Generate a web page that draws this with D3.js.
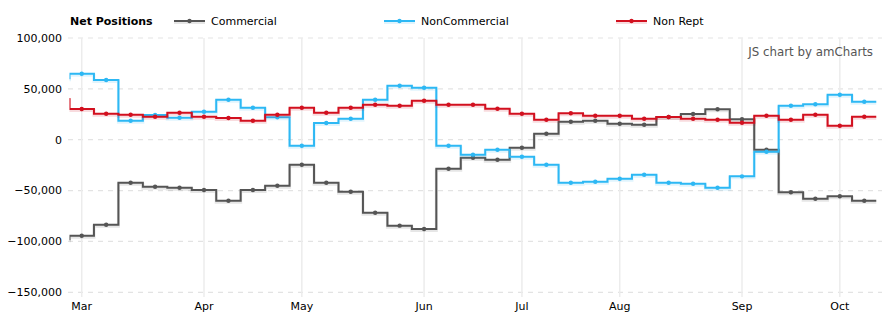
<!DOCTYPE html>
<html><head><meta charset="utf-8">
<script src="https://cdn.jsdelivr.net/npm/d3@7"></script>
<style>
html,body{margin:0;padding:0;background:#fff;}
svg{display:block;font-family:"DejaVu Sans",Verdana,sans-serif;}
</style></head>
<body><svg id="chart" width="892" height="326"></svg>
<script>
// weekly report dates (first entry is the week before the visible window)
const dates = ["2016-02-23","2016-03-01","2016-03-08","2016-03-15","2016-03-22","2016-03-29",
  "2016-04-05","2016-04-12","2016-04-19","2016-04-26",
  "2016-05-03","2016-05-10","2016-05-17","2016-05-24","2016-05-31",
  "2016-06-07","2016-06-14","2016-06-21","2016-06-28",
  "2016-07-05","2016-07-12","2016-07-19","2016-07-26",
  "2016-08-02","2016-08-09","2016-08-16","2016-08-23","2016-08-30",
  "2016-09-06","2016-09-13","2016-09-20","2016-09-27",
  "2016-10-04","2016-10-11"];
const commercial = [-97900,-94400,-83600,-42300,-46200,-47200,-49400,-60000,-49400,-45200,
  -24600,-42300,-51100,-71800,-84500,-87800,-28500,-17700,-19700,-7900,5900,17700,18700,
  15700,14700,22300,25300,29900,20100,-9800,-51700,-58000,-55600,-60000];
const nonCommercial = [60400,64900,58700,18700,24300,21600,27500,39300,31500,22000,
  -5900,16400,20600,39300,53100,51100,-5900,-14700,-9800,-16700,-24600,-42300,-41300,
  -38300,-34400,-42300,-43300,-47200,-36000,-11800,33400,34800,44200,37400];
const nonRept = [40000,30200,25600,24600,22600,26500,22600,21300,18700,24600,
  31500,26500,31500,34400,33400,38300,34400,34400,30500,25600,19700,26000,23600,
  23600,20600,22300,20600,19700,16700,23600,19700,24600,13800,22600];
const yTicks = [100000,50000,0,-50000,-100000,-150000];
const seriesNames = ["Commercial","NonCommercial","Non Rept"];
const seriesColors = ["#555555","#2db8f4","#d2101f"];
const legendTitle = "Net Positions";
const credit = "JS chart by amCharts";

const svg = d3.select("#chart");
const L = 69.5, R = 876.5, T = 38, B = 292.3;
const parse = d3.timeParse("%Y-%m-%d");
const visible = dates.slice(1);
const x = d3.scalePoint().domain(visible).range([L, R]).padding(0.5);
const step = x.step();
const xOf = i => i === 0 ? x(dates[1]) - step : x(dates[i]);
const y = d3.scaleLinear().domain([-150000, 100000]).range([B, T]);

// horizontal dashed grid
svg.append("g").selectAll("line").data(yTicks).join("line")
  .attr("x1", 68).attr("x2", 882)
  .attr("y1", d => y(d)).attr("y2", d => y(d))
  .attr("stroke", "#e3e3e3").attr("stroke-width", 1.2).attr("stroke-dasharray", "5,5");

// month grid + labels
const monthStarts = visible.filter((d, i) => i === 0 || parse(d).getMonth() !== parse(visible[i - 1]).getMonth());
svg.append("g").selectAll("line").data(monthStarts).join("line")
  .attr("x1", d => x(d)).attr("x2", d => x(d))
  .attr("y1", T).attr("y2", 297)
  .attr("stroke", "#ececec").attr("stroke-width", 1.5);
svg.append("g").selectAll("text").data(monthStarts).join("text")
  .attr("x", d => x(d)).attr("y", 310)
  .attr("text-anchor", "middle").attr("font-size", 11).attr("fill", "#000")
  .text(d => d3.timeFormat("%b")(parse(d)));

// y labels
const fmt = d3.format(",");
svg.append("g").selectAll("text").data(yTicks).join("text")
  .attr("x", 62).attr("y", d => y(d)).attr("dy", "0.35em")
  .attr("text-anchor", "end").attr("font-size", 11).attr("fill", "#000")
  .text(d => fmt(d));

// clip
svg.append("clipPath").attr("id", "plot").append("rect")
  .attr("x", L).attr("y", 0).attr("width", R - L).attr("height", 326);

const allSeries = [commercial, nonCommercial, nonRept];
const line = d3.line();
const plot = svg.append("g").attr("clip-path", "url(#plot)");
allSeries.forEach((vals, si) => {
  const pts = [];
  vals.forEach((v, i) => {
    pts.push([xOf(i) - step / 2, y(v)]);
    pts.push([xOf(i) + step / 2, y(v)]);
  });
  const g = plot.append("g");
  g.append("path").attr("d", line(pts)).attr("fill", "none")
    .attr("stroke", seriesColors[si]).attr("stroke-opacity", 0.15).attr("stroke-width", 3)
    .attr("transform", "translate(0,1.5)");
  g.append("path").attr("d", line(pts)).attr("fill", "none")
    .attr("stroke", seriesColors[si]).attr("stroke-width", 2);
  g.selectAll("circle").data(vals.slice(1)).join("circle")
    .attr("cx", (v, i) => x(visible[i])).attr("cy", v => y(v)).attr("r", 2.2)
    .attr("fill", seriesColors[si]);
});

// legend
svg.append("text").attr("x", 70).attr("y", 25).attr("font-size", 11).attr("font-weight", "bold")
  .attr("fill", "#000").text(legendTitle);
const legendX = [174, 384, 616];
seriesNames.forEach((n, i) => {
  const g = svg.append("g").attr("transform", `translate(${legendX[i]},21)`);
  g.append("line").attr("x1", 0).attr("x2", 31).attr("y1", 1.5).attr("y2", 1.5)
    .attr("stroke", seriesColors[i]).attr("stroke-opacity", 0.15).attr("stroke-width", 3);
  g.append("line").attr("x1", 0).attr("x2", 31).attr("y1", 0).attr("y2", 0)
    .attr("stroke", seriesColors[i]).attr("stroke-width", 2);
  g.append("circle").attr("cx", 15.5).attr("cy", 0).attr("r", 2.2).attr("fill", seriesColors[i]);
  g.append("text").attr("x", 37).attr("y", 0).attr("dy", "0.35em")
    .attr("font-size", 11).attr("fill", "#000").text(n);
});

svg.append("text").attr("x", 873).attr("y", 52).attr("dy", "0.35em").attr("text-anchor", "end")
  .attr("font-size", 11.8).attr("fill", "#555").text(credit);
</script></body></html>
